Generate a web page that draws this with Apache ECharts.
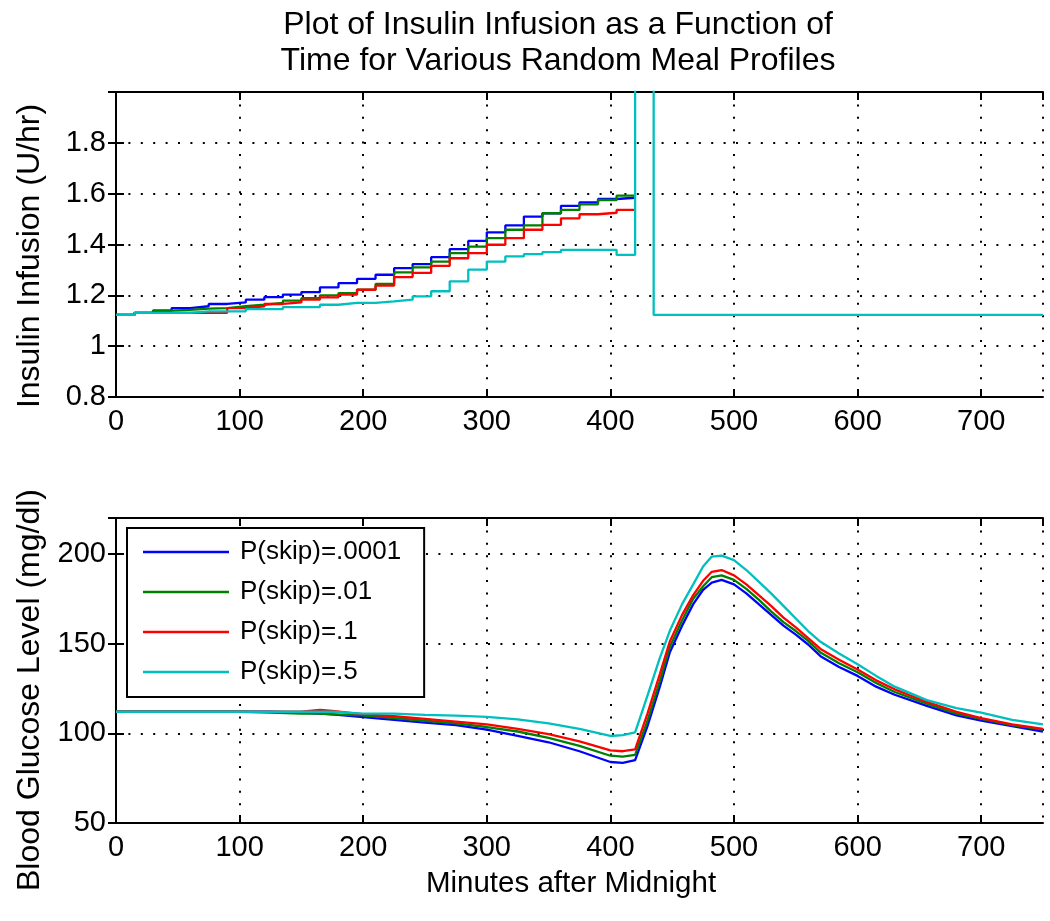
<!DOCTYPE html>
<html>
<head>
<meta charset="utf-8">
<script src="https://cdn.jsdelivr.net/npm/echarts@6.0.0/dist/echarts.min.js"></script>
<style>
html,body{margin:0;padding:0;background:#fff;}
#chart{width:1050px;height:921px;}
</style>
</head>
<body>
<div id="chart"></div>
<script>
// ---------- DATA ----------
const seriesNames = ['P(skip)=.0001', 'P(skip)=.01', 'P(skip)=.1', 'P(skip)=.5'];
const seriesColors = ['#0000ff', '#008000', '#ff0000', '#00bfbf'];

// Top panel: insulin infusion (U/hr), piecewise constant every 15 min
const stepTimes = [0,15,30,45,60,75,90,105,120,135,150,165,180,195,210,225,240,255,270,285,300,315,330,345,360,375,390,405];
const stepEnd = 420;
const insulinBlue  = [1.123,1.131,1.140,1.150,1.157,1.166,1.172,1.183,1.193,1.203,1.213,1.231,1.248,1.265,1.281,1.307,1.323,1.350,1.382,1.414,1.448,1.475,1.510,1.523,1.552,1.566,1.579,1.584];
const insulinGreen = [1.123,1.131,1.140,1.143,1.148,1.150,1.157,1.163,1.170,1.179,1.189,1.200,1.209,1.222,1.245,1.290,1.310,1.333,1.366,1.392,1.425,1.458,1.475,1.523,1.536,1.558,1.575,1.592];
const insulinRed   = [1.123,1.131,1.131,1.131,1.131,1.131,1.150,1.157,1.166,1.172,1.183,1.192,1.203,1.222,1.238,1.272,1.288,1.316,1.346,1.366,1.399,1.425,1.458,1.477,1.503,1.519,1.525,1.536];
const insulinCyan  = [1.123,1.131,1.131,1.131,1.137,1.137,1.137,1.146,1.146,1.154,1.154,1.163,1.170,1.170,1.176,1.183,1.196,1.216,1.255,1.301,1.333,1.353,1.362,1.370,1.379,1.379,1.379,1.359];
// meal bolus portion (only visible for the last-drawn series)
const bolusTimes  = [420, 435, 750];
const bolusValues = [2.5, 1.123, 1.123];

// Bottom panel: blood glucose (mg/dl)
const glucoseTimes = [0,25,50,75,100,125,150,165,175,200,225,250,275,300,325,350,375,400,410,420,430,440,448,458,467,475,482,490,500,510,520,530,540,550,560,570,585,600,615,630,656,680,700,725,750];
const glucoseBlue  = [112,112,112,112,112,112,111.5,111,110.5,109,107.5,106,104.5,102,98.5,95,90,84,83.5,85,104,126,145,160,172,180,184,185.5,183,178,172,166,160,155,149.5,143,137,132,126,121.5,115.3,110,107,104,101];
const glucoseGreen = [112,112,112,112,112,111.5,111,111,110.5,110,108.5,107,105.5,103.5,101,97.5,93,87.5,87,88,107,129,148,163,175,182,187,188,185.5,180.5,174.5,168,162,157,151.5,145,139,134,128,123,116.5,111,108,104.5,102];
const glucoseRed   = [112,112,112,112,112,112,112,113,112.5,110.5,109.5,108,106.5,105,102.5,99.5,95.5,90.5,90,91,111,133,151,166,177,185,190,191,188,183,177,171,164.5,159,153,147,141,135.5,129.5,124.5,117.5,112,108.5,105,102.5];
const glucoseCyan  = [112,112,112,112,112,112,112,112,112,111,111,110.3,109.8,109.2,107.8,105.5,102.5,98.5,99,100.5,121,142,157,172,183,193,198.5,199,196.5,191,184.5,178,171,164,157,151,144.5,138.5,132,126,118.5,114,111.5,107.5,105];

const titleLines = ['Plot of Insulin Infusion as a Function of', 'Time for Various Random Meal Profiles'];
const topYName = 'Insulin Infusion (U/hr)';
const bottomYName = 'Blood Glucose Level (mg/dl)';
const xName = 'Minutes after Midnight';

// ---------- BUILD ----------
function stepData(vals, withBolus) {
  const d = stepTimes.map((t, i) => [t, vals[i]]);
  d.push([stepEnd, vals[vals.length - 1]]);
  if (withBolus) bolusTimes.forEach((t, i) => d.push([t, bolusValues[i]]));
  return d;
}
function pairs(times, vals) { return times.map((t, i) => [t, vals[i]]); }

const FONT = "'Liberation Sans', Arial, Helvetica, sans-serif";
const grids = [
  {left: 116, top: 92, width: 927, height: 305},
  {left: 116, top: 518, width: 927, height: 305}
];
const dotted = {color: '#000', width: 2, type: [2, 10.4]};
const TICK_FS = 29;

function xMain(gi) {
  return {
    type: 'value', gridIndex: gi, min: 0, max: 750, interval: 100, position: 'bottom',
    axisLine: {show: true, lineStyle: {color: '#000', width: 2}},
    axisTick: {show: true, inside: true, length: 8, lineStyle: {color: '#000', width: 2}},
    axisLabel: {color: '#000', fontSize: TICK_FS, fontFamily: FONT, margin: 10, showMaxLabel: false},
    splitLine: {show: true, lineStyle: dotted}
  };
}
function xTop(gi) {
  return {
    type: 'value', gridIndex: gi, min: 0, max: 750, interval: 100, position: 'top',
    axisLine: {show: true, lineStyle: {color: '#000', width: 2}},
    axisTick: {show: true, inside: true, length: 8, lineStyle: {color: '#000', width: 2}},
    axisLabel: {show: false}, splitLine: {show: false}
  };
}
function yMain(gi, min, max, interval) {
  return {
    type: 'value', gridIndex: gi, min: min, max: max, interval: interval, position: 'left',
    axisLine: {show: true, lineStyle: {color: '#000', width: 2}},
    axisTick: {show: true, inside: true, length: 8, lineStyle: {color: '#000', width: 2}},
    axisLabel: {color: '#000', fontSize: TICK_FS, fontFamily: FONT, margin: 10, showMaxLabel: false},
    splitLine: {show: true, lineStyle: dotted}
  };
}
function yRight(gi, min, max, interval) {
  return {
    type: 'value', gridIndex: gi, min: min, max: max, interval: interval, position: 'right',
    axisLine: {show: true, lineStyle: {color: '#000', width: 2}},
    axisTick: {show: true, inside: true, length: 8, lineStyle: {color: '#000', width: 2}},
    axisLabel: {show: false}, splitLine: {show: false}
  };
}

const insulinSets = [insulinBlue, insulinGreen, insulinRed, insulinCyan];
const glucoseSets = [glucoseBlue, glucoseGreen, glucoseRed, glucoseCyan];

const series = [];
insulinSets.forEach((vals, i) => {
  series.push({
    type: 'line', name: 'insulin ' + seriesNames[i], xAxisIndex: 0, yAxisIndex: 0,
    step: 'end', showSymbol: false, symbol: 'none', clip: true,
    data: stepData(vals, i === insulinSets.length - 1),
    lineStyle: {color: seriesColors[i], width: 2.3}, itemStyle: {color: seriesColors[i]}
  });
});
glucoseSets.forEach((vals, i) => {
  series.push({
    type: 'line', name: seriesNames[i], xAxisIndex: 1, yAxisIndex: 1,
    showSymbol: false, symbol: 'none', clip: true,
    data: pairs(glucoseTimes, vals),
    lineStyle: {color: seriesColors[i], width: 2.3}, itemStyle: {color: seriesColors[i]}
  });
});

const textCommon = {fill: '#000', fontFamily: FONT};
const option = {
  animation: false,
  backgroundColor: '#fff',
  textStyle: {fontFamily: FONT},
  title: {
    text: titleLines.join('\n'), left: 553, top: 2, textAlign: 'center',
    textStyle: {color: '#000', fontSize: 32, fontWeight: 'normal', fontFamily: FONT, lineHeight: 36}
  },
  graphic: [
    {type: 'text', x: 30, y: 256, rotation: Math.PI / 2,
      style: Object.assign({text: topYName, fontSize: 32, align: 'center', verticalAlign: 'middle'}, textCommon)},
    {type: 'text', x: 30, y: 690, rotation: Math.PI / 2,
      style: Object.assign({text: bottomYName, fontSize: 32, align: 'center', verticalAlign: 'middle'}, textCommon)},
    {type: 'text', x: 571, y: 884,
      style: Object.assign({text: xName, fontSize: 29.5, align: 'center', verticalAlign: 'middle'}, textCommon)}
  ],
  grid: grids,
  xAxis: [xMain(0), xMain(1), xTop(0), xTop(1)],
  yAxis: [
    yMain(0, 0.8, 2, 0.2),
    yMain(1, 50, 220, 50),
    yRight(0, 0.8, 2, 0.2), yRight(1, 50, 220, 50)
  ],
  legend: {
    data: seriesNames, orient: 'vertical', left: 127, top: 528,
    icon: 'rect', itemWidth: 86, itemHeight: 2.5, itemGap: 12,
    backgroundColor: '#fff', borderColor: '#000', borderWidth: 2,
    padding: [10, 23, 11, 16], selectedMode: false,
    textStyle: {color: '#000', fontSize: 26, fontFamily: FONT, lineHeight: 28, padding: [0, 0, 0, 6]}
  },
  series: series
};

const chart = echarts.init(document.getElementById('chart'), null, {renderer: 'canvas'});
chart.setOption(option);
</script>
</body>
</html>
